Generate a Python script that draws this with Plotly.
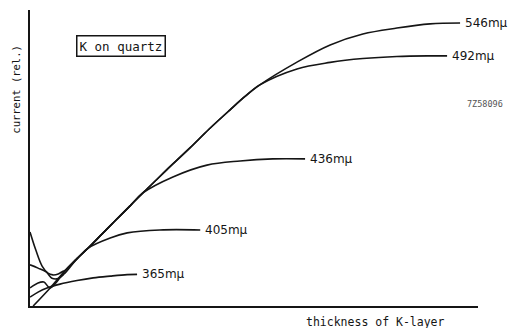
import plotly.graph_objects as go

# Photocurrent vs. thickness of a potassium layer on quartz (relative units, 0-100).
# All wavelengths follow one common rising line between their start and saturation.
line_t = [0.7, 4.5, 8.0, 10.5, 13.0, 16.0, 19.0, 22.5, 25.2, 28.0, 30.5, 35.7, 40.0, 44.6, 48.0, 51.3]
line_c = [0.0, 6.1, 12.2, 16.0, 19.6, 24.2, 28.8, 34.1, 38.2, 42.3, 46.0, 53.4, 59.8, 66.2, 70.8, 74.7]

# 546 mμ
head_546_t = [0.0, 1.3, 2.7, 4.0, 5.1, 6.3, 7.1]
head_546_c = [25.0, 18.9, 13.5, 11.1, 10.5, 10.8, 11.5]
tail_546_t = [59.6, 67.0, 74.3, 81.9, 89.3, 96.0]
tail_546_c = [82.4, 88.2, 91.9, 93.9, 95.3, 95.6]

# 492 mμ
head_492_t = [0.0, 1.8, 3.6, 4.9, 6.3, 7.6]
head_492_c = [13.9, 12.8, 11.5, 9.4, 9.3, 10.8]
tail_492_t = [59.6, 67.0, 74.3, 81.9, 89.3, 93.1]
tail_492_c = [80.1, 82.3, 83.6, 84.3, 84.5, 84.5]

# 436 mμ
head_436_t = [0.0, 1.8, 3.1]
head_436_c = [6.1, 7.8, 8.1]
tail_436_t = [31.9, 39.5, 46.9, 54.2, 61.4]
tail_436_c = [43.6, 47.6, 49.0, 49.7, 49.7]

# 405 mμ (starts at the origin on the common line)
head_405_t = []
head_405_c = []
tail_405_t = [17.9, 21.7, 29.0, 38.0]
tail_405_c = [23.0, 24.7, 25.7, 25.7]

# 365 mμ (never reaches the common line)
t_365 = [0.0, 1.8, 3.8, 6.7, 10.5, 14.1, 17.9, 21.7, 23.9]
c_365 = [3.0, 4.7, 6.1, 7.4, 8.6, 9.5, 10.1, 10.6, 10.7]

wavelengths = ["546mμ", "492mμ", "436mμ", "405mμ", "365mμ"]


def on_line(t_from, t_to):
    idx = [i for i, t in enumerate(line_t) if t_from <= t <= t_to]
    return [line_t[i] for i in idx], [line_c[i] for i in idx]


def assemble(head_t, head_c, t_from, t_to, tail_t, tail_c):
    lt, lc = on_line(t_from, t_to)
    return head_t + lt + tail_t, head_c + lc + tail_c


series = [
    assemble(head_546_t, head_546_c, 8.0, 51.3, tail_546_t, tail_546_c),
    assemble(head_492_t, head_492_c, 10.5, 51.3, tail_492_t, tail_492_c),
    assemble(head_436_t, head_436_c, 4.5, 25.2, tail_436_t, tail_436_c),
    assemble(head_405_t, head_405_c, 0.7, 13.0, tail_405_t, tail_405_c),
    (t_365, c_365),
]

INK = "#151515"

fig = go.Figure()
annotations = []
for name, (t, c) in zip(wavelengths, series):
    fig.add_trace(go.Scatter(
        x=t, y=c, mode="lines", name=name,
        line=dict(color=INK, width=1.6, shape="spline", smoothing=1.0),
        hoverinfo="skip", showlegend=False, cliponaxis=False,
    ))
    annotations.append(dict(
        x=t[-1], y=c[-1], xref="x", yref="y", text=name, showarrow=False,
        xanchor="left", yanchor="middle", xshift=3,
        font=dict(family="DejaVu Sans", size=12, color=INK),
    ))

# boxed caption
annotations.append(dict(
    x=0.203, y=0.878, xref="paper", yref="paper", text="K on quartz",
    showarrow=False, xanchor="center", yanchor="middle",
    font=dict(family="DejaVu Sans Mono", size=12.5, color=INK),
    bordercolor=INK, borderwidth=1.5, borderpad=2, bgcolor="white",
))
# axis captions
annotations.append(dict(
    x=0.772, y=-0.055, xref="paper", yref="paper", text="thickness of K-layer",
    showarrow=False, xanchor="center", yanchor="middle",
    font=dict(family="DejaVu Sans Mono", size=11.5, color=INK),
))
annotations.append(dict(
    x=-0.032, y=0.733, xref="paper", yref="paper", text="current (rel.)",
    showarrow=False, xanchor="center", yanchor="middle", textangle=-90,
    font=dict(family="DejaVu Sans Mono", size=10.5, color=INK),
))
# figure number
annotations.append(dict(
    x=1.015, y=0.682, xref="paper", yref="paper", text="7Z58096",
    showarrow=False, xanchor="center", yanchor="middle",
    font=dict(family="DejaVu Sans Mono", size=8.5, color="#555555"),
))

axis_common = dict(
    showgrid=False, zeroline=False, showticklabels=False, ticks="",
    showline=True, linecolor=INK, linewidth=1.6, mirror=False, fixedrange=True,
)

fig.update_layout(
    width=509, height=328,
    margin=dict(l=30, r=31, t=10, b=22),
    paper_bgcolor="white", plot_bgcolor="white",
    xaxis=dict(range=[0, 100], **axis_common),
    yaxis=dict(range=[0, 100], **axis_common),
    annotations=annotations,
)

fig.write_html("out.html")
